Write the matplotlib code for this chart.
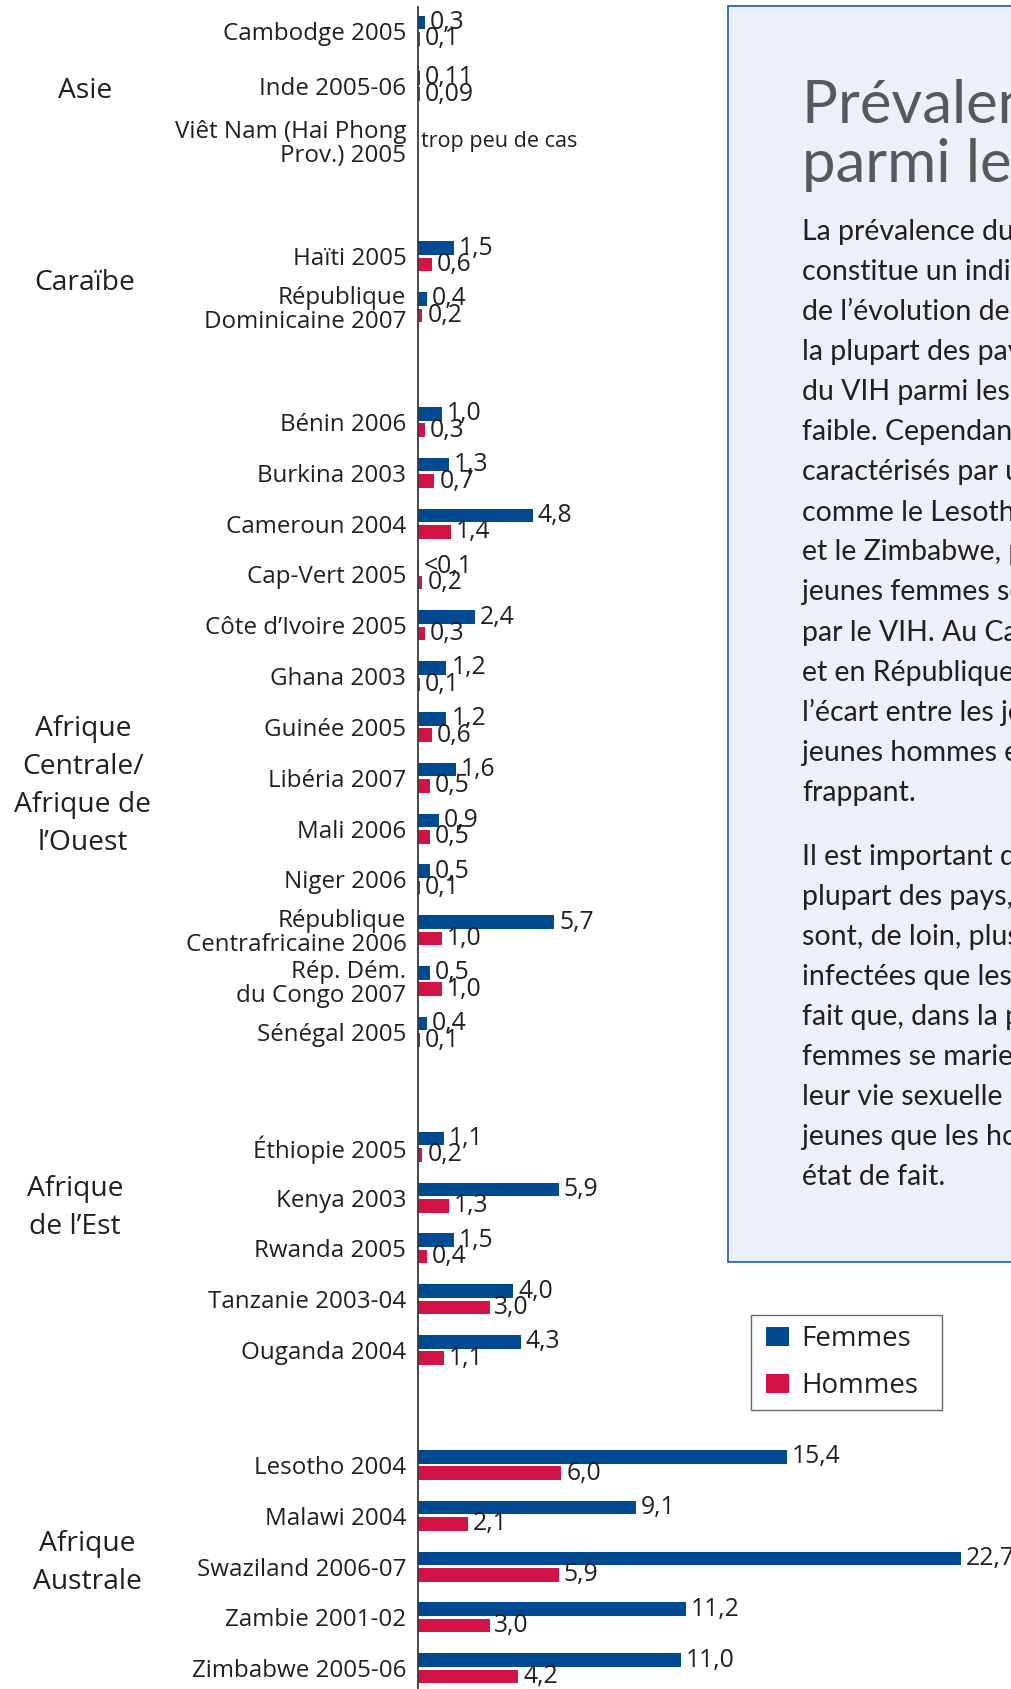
import numpy as np
import matplotlib
matplotlib.use("Agg")
import matplotlib.pyplot as plt
from matplotlib.patches import Rectangle
from matplotlib import transforms
from matplotlib.container import BarContainer
from matplotlib import legend_handler

# ---------------- data ----------------
groups = ["Asie", "Caraïbe", "Afrique\nCentrale/\nAfrique de\nl’Ouest", "Afrique\nde l’Est", "Afrique\nAustrale"]
group_sizes = [3, 2, 13, 5, 5]

countries = [
    "Cambodge 2005", "Inde 2005-06", "Viêt Nam (Hai Phong\nProv.) 2005",
    "Haïti 2005", "République\nDominicaine 2007",
    "Bénin 2006", "Burkina 2003", "Cameroun 2004", "Cap-Vert 2005",
    "Côte d’Ivoire 2005", "Ghana 2003", "Guinée 2005", "Libéria 2007",
    "Mali 2006", "Niger 2006", "République\nCentrafricaine 2006",
    "Rép. Dém.\ndu Congo 2007", "Sénégal 2005",
    "Éthiopie 2005", "Kenya 2003", "Rwanda 2005", "Tanzanie 2003-04", "Ouganda 2004",
    "Lesotho 2004", "Malawi 2004", "Swaziland 2006-07", "Zambie 2001-02", "Zimbabwe 2005-06",
]
femmes = [0.3, 0.11, np.nan,
          1.5, 0.4,
          1.0, 1.3, 4.8, 0.05, 2.4, 1.2, 1.2, 1.6, 0.9, 0.5, 5.7, 0.5, 0.4,
          1.1, 5.9, 1.5, 4.0, 4.3,
          15.4, 9.1, 22.7, 11.2, 11.0]
hommes = [0.1, 0.09, np.nan,
          0.6, 0.2,
          0.3, 0.7, 1.4, 0.2, 0.3, 0.1, 0.6, 0.5, 0.5, 0.1, 1.0, 1.0, 0.1,
          0.2, 1.3, 0.4, 3.0, 1.1,
          6.0, 2.1, 5.9, 3.0, 4.2]
femmes_labels = ["0,3", "0,11", "",
                 "1,5", "0,4",
                 "1,0", "1,3", "4,8", "<0,1", "2,4", "1,2", "1,2", "1,6", "0,9", "0,5", "5,7", "0,5", "0,4",
                 "1,1", "5,9", "1,5", "4,0", "4,3",
                 "15,4", "9,1", "22,7", "11,2", "11,0"]
hommes_labels = ["0,1", "0,09", "",
                 "0,6", "0,2",
                 "0,3", "0,7", "1,4", "0,2", "0,3", "0,1", "0,6", "0,5", "0,5", "0,1", "1,0", "1,0", "0,1",
                 "0,2", "1,3", "0,4", "3,0", "1,1",
                 "6,0", "2,1", "5,9", "3,0", "4,2"]
no_data_note = "trop peu de cas"
series_names = ["Femmes", "Hommes"]

title_lines = ["Prévalence du VIH", "parmi les jeunes"]
para1 = ["La prévalence du VIH parmi les jeunes",
         "constitue un indicateur important",
         "de l’évolution de l’épidémie. Dans",
         "la plupart des pays, la prévalence",
         "du VIH parmi les jeunes reste",
         "faible. Cependant, dans les pays",
         "caractérisés par une épidémie",
         "comme le Lesotho, le Swaziland",
         "et le Zimbabwe, plus de 10 % des",
         "jeunes femmes sont infectées",
         "par le VIH. Au Cameroun, au Kenya",
         "et en République centrafricaine,",
         "l’écart entre les jeunes femmes et les",
         "jeunes hommes est particulièrement",
         "frappant."]
para2 = ["Il est important de noter que, dans la",
         "plupart des pays, les jeunes femmes",
         "sont, de loin, plus susceptibles d’être",
         "infectées que les jeunes hommes. Le",
         "fait que, dans la plupart des pays, les",
         "femmes se marient et commencent",
         "leur vie sexuelle plus tôt et plus",
         "jeunes que les hommes explique cet",
         "état de fait."]

# ---------------- style ----------------
BLUE = "#004A91"
RED = "#D31245"
TXT = "#231F20"
LABEL_FONT = ["Open Sans", "DejaVu Sans"]
BOX_FONT = ["Lato", "DejaVu Sans"]

W, H = 1012, 1689
fig = plt.figure(figsize=(W / 100, H / 100), dpi=100)
fig.patch.set_facecolor("white")

# layout (row units)
group_step = [1.089, 1, 1, 1, 1]
GAP = 2.262
pos = []
y = 0.0
for gi, n in enumerate(group_sizes):
    if gi > 0:
        y += GAP
    for k in range(n):
        if k > 0:
            y += group_step[gi]
        pos.append(y)
pos = np.array(pos)
UNIT_PX = 50.85
axis_x_px = 417.7
PX_PER_VAL = 23.95

ax = fig.add_axes([axis_x_px / W, 0, 1 - axis_x_px / W, 1 - 7 / H])
ax.set_facecolor("none")
ax.set_xlim(0, (W - axis_x_px) / PX_PER_VAL)
ax.set_ylim(pos[-1] + (H - 1668.2) / UNIT_PX, -(30.7 - 7) / UNIT_PX)

bh = 0.267
off = 0.161
fb = ax.barh(pos - off, femmes, height=bh, color=BLUE, label=series_names[0])
hb = ax.barh(pos + off, hommes, height=bh, color=RED, label=series_names[1])
ax.bar_label(fb, labels=femmes_labels, padding=3.5, fontsize=17.8, family=LABEL_FONT, color=TXT)
ax.bar_label(hb, labels=hommes_labels, padding=3.5, fontsize=17.8, family=LABEL_FONT, color=TXT)

vi = countries.index("Viêt Nam (Hai Phong\nProv.) 2005")
ax.annotate(no_data_note, (0, pos[vi]), xytext=(2.5, 0), textcoords="offset points",
            va="center", ha="left", fontsize=15.5, family=LABEL_FONT, color=TXT)

for s in ["top", "right", "bottom"]:
    ax.spines[s].set_visible(False)
ax.spines["left"].set_color("#3a3a3a")
ax.spines["left"].set_linewidth(1.3)
ax.set_xticks([])
ax.set_yticks(pos)
ax.set_yticklabels(countries, fontsize=17.4, family=LABEL_FONT, color=TXT)
ax.tick_params(axis="y", length=0, pad=8.2)
for t in ax.get_yticklabels():
    t.set_linespacing(0.98)

# group labels
grp_anchor = [1.18, 0.53, 7.16, 1.21, 1.93]
grp_x_px = [85, 85, 83, 75, 87]
trans = transforms.blended_transform_factory(fig.transFigure, ax.transData)
start = 0
for gi, n in enumerate(group_sizes):
    yy = pos[start] + grp_anchor[gi]
    ax.text(grp_x_px[gi] / W, yy, groups[gi], transform=trans, ha="center", va="center",
            fontsize=20.3, family=LABEL_FONT, color=TXT, linespacing=1.48)
    start += n

# legend
LFS = 20
hmap = {BarContainer: legend_handler.HandlerPatch(
    xpad=0.195, update_func=legend_handler.update_from_first_child)}
leg = ax.legend(handles=[fb, hb], labels=series_names, loc="upper left",
                bbox_to_anchor=(751 / W, 1 - 1315 / H, (941.7 - 751) / W, 0),
                bbox_transform=fig.transFigure, mode="expand", borderaxespad=0,
                prop={"family": LABEL_FONT, "size": LFS}, frameon=True, fancybox=False,
                handlelength=1.02, handleheight=0.67, handletextpad=0.42,
                labelspacing=0.69, borderpad=0.36, handler_map=hmap)
leg.get_frame().set_edgecolor("#444444")
leg.get_frame().set_linewidth(1.0)
for t in leg.get_texts():
    t.set_color(TXT)

# text box
box = Rectangle((728 / W, 1 - 1261.7 / H), 0.5, (1261.7 - 5.7) / H, transform=fig.transFigure,
                facecolor="#EBF0F9", edgecolor="#2F65AE", linewidth=1.3, zorder=2)
fig.add_artist(box)
tx = 802 / W
title_base = [123, 182]
for i, line in enumerate(title_lines):
    fig.text(tx, 1 - title_base[i] / H, line, ha="left", va="baseline", fontsize=43,
             family=BOX_FONT, color="#58595B", zorder=3)
for i, line in enumerate(para1):
    fig.text(tx, 1 - (240 + 40.05 * i) / H, line, ha="left", va="baseline", fontsize=20.5,
             family=BOX_FONT, color=TXT, zorder=3)
for i, line in enumerate(para2):
    fig.text(tx, 1 - (865 + 40.05 * i) / H, line, ha="left", va="baseline", fontsize=20.5,
             family=BOX_FONT, color=TXT, zorder=3)

fig.savefig("out.png", dpi=100)
